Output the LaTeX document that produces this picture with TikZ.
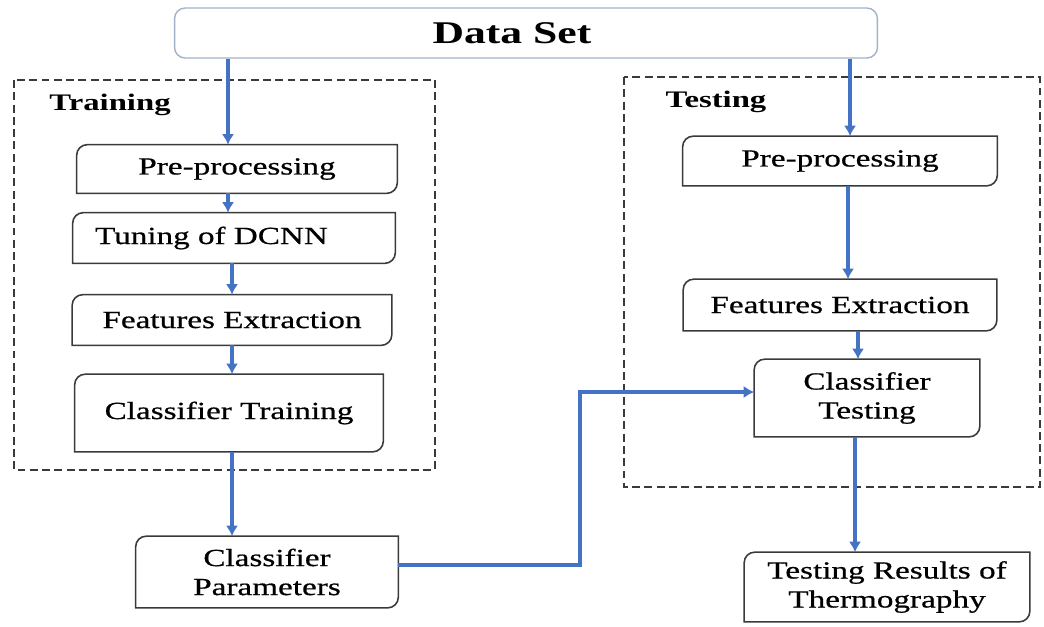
\documentclass[tikz,border=0pt]{standalone}
\usepackage{fontspec}
\setmainfont{Liberation Serif}[FakeStretch=1.35,FakeBold=0.6]
\newfontfamily\tagfont{Liberation Serif}[FakeStretch=1.38]
\usepackage{xcolor}
\definecolor{flowblue}{HTML}{4472C4}
\definecolor{boxdark}{HTML}{3A3A3A}
\definecolor{setgray}{HTML}{A3B1C6}
\usepackage{tikz}
\usetikzlibrary{arrows.meta,positioning,calc}
\newcommand{\cornerframe}[1]{%
 \draw[frame] (#1.south west) -- ([yshift=-6pt]#1.north west)
  arc[start angle=180,end angle=90,radius=6pt] -- (#1.north east)
  -- ([yshift=6pt]#1.south east) arc[start angle=0,end angle=-90,radius=6pt] -- cycle;}

\begin{document}
\begin{tikzpicture}[x=0.02cm,y=-0.02cm,>=Latex]
\tikzset{
 box/.style={inner sep=2pt,align=center,font=\fontsize{14}{16.5}\selectfont},
 frame/.style={draw=boxdark,line width=0.9pt,x=1cm,y=1cm},
 group/.style={draw=boxdark,line width=0.9pt,dash pattern=on 4.5pt off 2.5pt},
 tag/.style={font=\fontsize{13.5}{15}\tagfont\bfseries},
 arrow/.style={->,draw=flowblue,line width=2.1pt,arrows={-Latex[length=6pt,width=7pt]}}
}
\useasboundingbox (0,0) rectangle (1044,626);
% groups
\draw[group] (14,80) rectangle (435,470);
\draw[group] (624,77) rectangle (1040,487);
\node[tag] (train) at (110,105) {Training};
\node[tag] (test) at (716,102) {Testing};
% data set
\node[draw=setgray,line width=0.8pt,rounded corners=6pt,minimum width=14.06cm,minimum height=1cm,
 font=\fontsize{18}{21}\tagfont\bfseries] (data) at (526,33) {\hspace*{-0.56cm}Data Set};
% training side
\node[box,minimum width=6.4cm,minimum height=0.96cm] (preL) at (237,169) {Pre-processing};
\node[box,minimum width=6.44cm,minimum height=1cm,inner xsep=0.44cm,text width=5.56cm,align=left] (tune) at (234,238) {Tuning of DCNN};
\node[box,minimum width=6.38cm,minimum height=1cm] (featL) at (232,320) {Features Extraction};
\node[box,minimum width=6.16cm,minimum height=1.54cm] (clsT) at (229,413) {Classifier Training};
\node[box,minimum width=5.24cm,minimum height=1.42cm] (param) at (267,572) {Classifier\\Parameters};
% testing side
\node[box,minimum width=6.28cm,minimum height=0.98cm] (preR) at (840,161) {Pre-processing};
\node[box,minimum width=6.26cm,minimum height=1.02cm] (featR) at (840,305) {Features Extraction};
\node[box,minimum width=4.5cm,minimum height=1.54cm] (clsTest) at (867,398) {Classifier\\Testing};
\node[box,minimum width=5.7cm,minimum height=1.38cm] (result) at (887,587) {Testing Results of\\Thermography};
\foreach \n in {preL,tune,featL,clsT,param,preR,featR,clsTest,result}
 \cornerframe{\n};
% connectors
\draw[arrow] ([xshift=-0.18cm]data.south -| preL.north) -- ([xshift=-0.18cm]preL.north);
\draw[arrow] ([xshift=0.2cm]data.south -| preR.north) -- ([xshift=0.2cm]preR.north);
\draw[arrow] ([xshift=-0.18cm]preL.south) -- ([xshift=-0.18cm]preL.south |- tune.north);
\draw[arrow] (tune.south -| featL.north) -- (featL.north);
\draw[arrow] (featL.south) -- (featL.south |- clsT.north);
\draw[arrow] ([xshift=0.06cm]clsT.south) -- ([xshift=0.06cm]clsT.south |- param.north);
\draw[arrow] ([xshift=0.16cm]preR.south) -- ([xshift=0.16cm]preR.south |- featR.north);
\draw[arrow] ([xshift=0.36cm]featR.south) -- ([xshift=0.36cm]featR.south |- clsTest.north);
\draw[arrow] ([xshift=-0.24cm]clsTest.south) -- ([xshift=-0.24cm]clsTest.south |- result.north);
\draw[arrow] ([yshift=0.14cm]param.east) -- ++(3.64cm,0) |- ([yshift=0.12cm]clsTest.west);
\end{tikzpicture}
\end{document}
